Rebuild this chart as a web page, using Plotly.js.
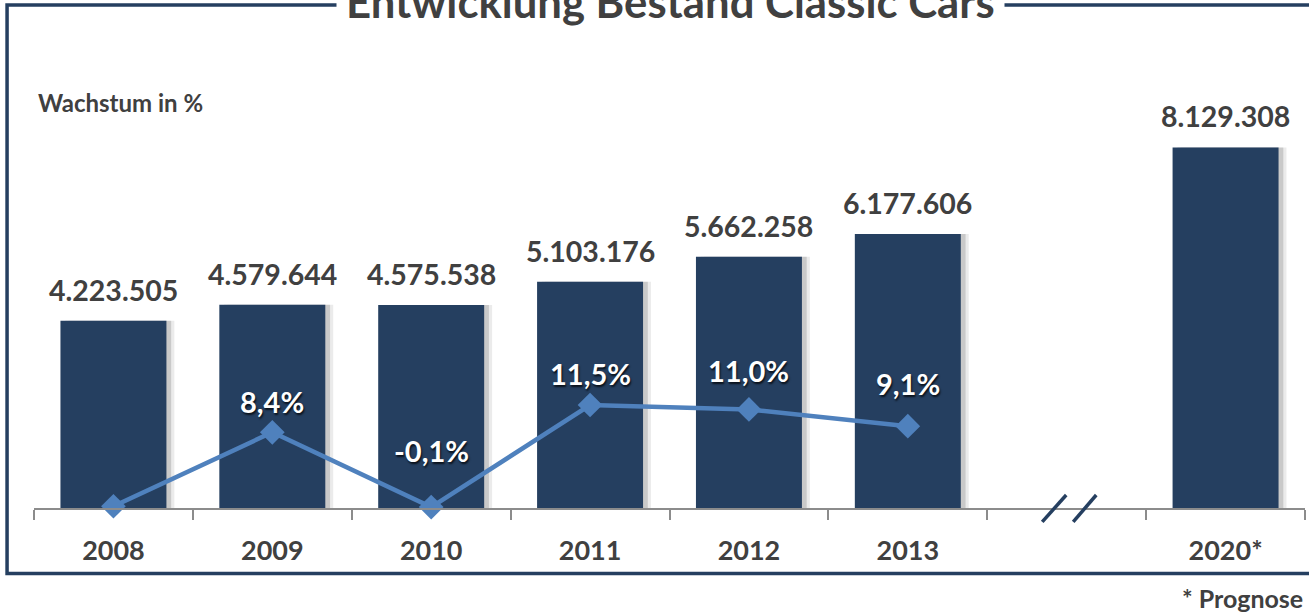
<!DOCTYPE html>
<html>
<head>
<meta charset="utf-8">
<script src="https://cdn.plot.ly/plotly-3.0.1.min.js"></script>
<style>
  html, body { margin: 0; padding: 0; background: #ffffff; }
  #chart { width: 1309px; height: 613px; }
</style>
</head>
<body>
<div id="chart"></div>
<script>
// ---- data ----
var years = ['2008', '2009', '2010', '2011', '2012', '2013', ' ', '2020*'];
var bestand = [4223505, 4579644, 4575538, 5103176, 5662258, 6177606, null, 8129308];
var growth = [0, 8.4, -0.1, 11.5, 11.0, 9.1, null, null];
var growthLabels = [null, '8,4%', '-0,1%', '11,5%', '11,0%', '9,1%', null, null];
var growthLabelShift = [0, 31, 57, 32, 39, 43, 0, 0];
var titleText = 'Entwicklung Bestand Classic Cars';
var growthAxisLabel = 'Wachstum in %';
var footnote = '* Prognose';

// ---- style ----
var FONT = 'Lato, "Open Sans", sans-serif';
var TXT = '#404040';
var BAR = '#253F60';
var LINE = '#4F81BD';

function fmtDE(v) {
  return String(v).replace(/\B(?=(\d{3})+(?!\d))/g, '.');
}

var barWidth = 0.667;

var traces = [
  { // soft shadow
    type: 'bar', x: years, y: bestand, width: barWidth, offset: -barWidth / 2 + 0.05,
    marker: { color: 'rgba(0,0,0,0.08)' }, hoverinfo: 'skip', showlegend: false, yaxis: 'y'
  },
  { // shadow
    type: 'bar', x: years, y: bestand, width: barWidth, offset: -barWidth / 2 + 0.03,
    marker: { color: 'rgba(0,0,0,0.14)' }, hoverinfo: 'skip', showlegend: false, yaxis: 'y'
  },
  {
    type: 'bar', x: years, y: bestand, width: barWidth, offset: -barWidth / 2,
    marker: { color: BAR }, showlegend: false, yaxis: 'y', name: 'Bestand'
  },
  {
    type: 'scatter', mode: 'lines+markers', x: years.slice(0, 6), y: growth.slice(0, 6),
    line: { color: LINE, width: 4.5 },
    marker: { symbol: 'diamond', size: 19, color: LINE },
    yaxis: 'y2', showlegend: false, cliponaxis: false, name: 'Wachstum'
  }
];

// annotations on a category axis: use the category index (numeric-looking names would be read as indices)
var annotations = [];
years.forEach(function (yr, i) {
  if (bestand[i] != null) {
    annotations.push({
      x: i, y: bestand[i], xref: 'x', yref: 'y', text: fmtDE(bestand[i]),
      showarrow: false, yanchor: 'middle', yshift: 31,
      font: { family: FONT, size: 28.5, color: TXT, weight: 'bold' }
    });
  }
  if (growthLabels[i]) {
    annotations.push({
      x: i, y: growth[i], xref: 'x', yref: 'y2', text: growthLabels[i],
      showarrow: false, yanchor: 'middle', yshift: growthLabelShift[i],
      font: { family: FONT, size: 29, color: '#ffffff', weight: 'bold',
              shadow: '1px 2px 2px rgba(0,0,0,0.75)' }
    });
  }
});
annotations.push({
  xref: 'paper', yref: 'paper', x: 0.5008, y: 1.1317, xanchor: 'center', yanchor: 'middle',
  text: titleText, showarrow: false, bgcolor: '#ffffff', borderpad: 9,
  font: { family: FONT, size: 43.7, color: TXT, weight: 'bold' }
});
annotations.push({
  xref: 'paper', yref: 'paper', x: 0.0016, y: 0.906, xanchor: 'left', yanchor: 'middle',
  text: growthAxisLabel, showarrow: false,
  font: { family: FONT, size: 24, color: TXT, weight: 'bold' }
});
annotations.push({
  xref: 'paper', yref: 'paper', x: 1.0, y: -0.2009, xanchor: 'right', yanchor: 'middle',
  text: footnote, showarrow: false,
  font: { family: FONT, size: 25, color: TXT, weight: 'bold' }
});

var shapes = [
  { // frame
    type: 'rect', xref: 'paper', yref: 'paper', layer: 'below',
    x0: -0.0212, x1: 1.02, y0: -0.1462, y1: 1.1228,
    line: { color: BAR, width: 3.5 }, fillcolor: 'rgba(0,0,0,0)'
  },
  { // axis break marks
    type: 'line', xref: 'x', yref: 'paper', x0: 5.846, x1: 5.997, y0: -0.031, y1: 0.029,
    line: { color: BAR, width: 3.5 }
  },
  {
    type: 'line', xref: 'x', yref: 'paper', x0: 6.041, x1: 6.186, y0: -0.031, y1: 0.029,
    line: { color: BAR, width: 3.5 }
  }
];

var layout = {
  width: 1309, height: 613,
  margin: { l: 34, r: 4, t: 60, b: 105, pad: 0 },
  paper_bgcolor: '#ffffff', plot_bgcolor: '#ffffff',
  barmode: 'overlay',
  font: { family: FONT, color: TXT },
  xaxis: {
    type: 'category', categoryorder: 'array', categoryarray: years,
    showgrid: false, zeroline: false,
    showline: true, linecolor: '#8c8c8c', linewidth: 2,
    ticks: 'outside', tickson: 'boundaries', ticklen: 10, tickcolor: '#8c8c8c', tickwidth: 2,
    ticklabelstandoff: 18,
    tickfont: { family: FONT, size: 27, color: TXT, weight: 'bold' },
    range: [-0.5, 7.5], fixedrange: true
  },
  yaxis: {
    range: [0, 10100000], visible: false, showgrid: false, zeroline: false
  },
  yaxis2: {
    range: [-0.2, 50.7], overlaying: 'y', side: 'right', visible: false,
    showgrid: false, zeroline: false
  },
  annotations: annotations,
  shapes: shapes,
  showlegend: false
};

Plotly.newPlot('chart', traces, layout, { displayModeBar: false, staticPlot: true });
</script>
</body>
</html>
